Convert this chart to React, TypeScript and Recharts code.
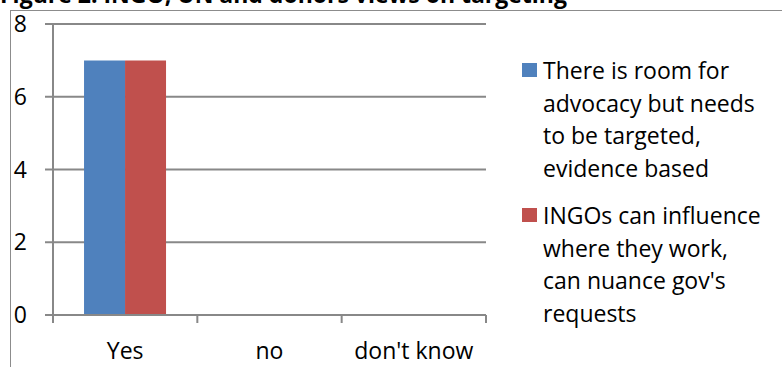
import React from 'react';
import { BarChart, Bar, XAxis, YAxis, CartesianGrid } from 'recharts';

const TITLE = "Figure 2: INGO, UN and donors views on targeting";

const ANSWERS = ['Yes', 'no', "don't know"];
const ROOM_FOR_ADVOCACY = [7, 0, 0];
const INGOS_CAN_INFLUENCE = [7, 0, 0];
const Y_TICKS = [0, 2, 4, 6, 8];

const SERIES = [
  { key: 'advocacy', name: 'There is room for advocacy but needs to be targeted, evidence based', color: '#4F81BD', values: ROOM_FOR_ADVOCACY },
  { key: 'influence', name: "INGOs can influence where they work, can nuance gov's requests", color: '#C0504D', values: INGOS_CAN_INFLUENCE },
];

const data = ANSWERS.map((answer, i) => {
  const row: Record<string, string | number> = { answer };
  SERIES.forEach((s) => { row[s.key] = s.values[i]; });
  return row;
});

const FONT = '"Open Sans", sans-serif';
const AXIS = '#888888';

// category ticks sit on the band edges, not the centres
function AnswerTick(props: any) {
  const { x, y, payload, index, visibleTicksCount } = props;
  const half = payload.offset ?? 0;
  const axisY = y - 28;
  const last = index === visibleTicksCount - 1;
  return (
    <g>
      <line x1={x - half} x2={x - half} y1={axisY} y2={axisY + 8} stroke={AXIS} strokeWidth={2} />
      {last && <line x1={x + half} x2={x + half} y1={axisY} y2={axisY + 8} stroke={AXIS} strokeWidth={2} />}
      <text x={x} y={y} dy="0.71em" textAnchor="middle" fill="#000" fontSize={23} fontFamily={FONT}>
        {payload.value}
      </text>
    </g>
  );
}

export default function App() {
  return (
    <div style={{ position: 'absolute', left: 0, top: 0, width: 782, height: 367, overflow: 'hidden', background: '#fff', fontFamily: FONT }}>
      <div style={{ position: 'absolute', left: 0, top: -17, fontSize: 23, fontWeight: 700, lineHeight: 1, whiteSpace: 'nowrap', color: '#000' }}>
        {TITLE}
      </div>
      <div style={{ position: 'absolute', left: 10, top: 10, width: 800, height: 400, borderTop: '1px solid #8c8c8c', borderLeft: '1px solid #8c8c8c' }} />

      <div style={{ position: 'absolute', left: 0, top: 0 }}>
        <BarChart
          width={782}
          height={367}
          data={data}
          margin={{ top: 24, right: 296, left: 0, bottom: 0 }}
          barCategoryGap="21.5%"
          barGap={0}
        >
          <CartesianGrid vertical={false} stroke={AXIS} strokeWidth={2} />
          <XAxis
            dataKey="answer"
            height={52}
            axisLine={{ stroke: AXIS, strokeWidth: 2 }}
            tickLine={false}
            tickSize={0}
            tickMargin={28}
            tick={<AnswerTick />}
            interval={0}
          />
          <YAxis
            width={53}
            domain={[0, 8]}
            ticks={Y_TICKS}
            axisLine={{ stroke: AXIS, strokeWidth: 2 }}
            tickLine={{ stroke: AXIS, strokeWidth: 2 }}
            tickSize={8}
            tickMargin={18}
            tick={{ fill: '#000', fontSize: 23, fontFamily: FONT }}
          />
          {SERIES.map((s) => (
            <Bar key={s.key} dataKey={s.key} name={s.name} fill={s.color} isAnimationActive={false} />
          ))}
        </BarChart>
      </div>

      <div style={{ position: 'absolute', left: 522, top: 54, fontSize: 23, lineHeight: '32.5px', color: '#000' }}>
        {SERIES.map((s, i) => (
          <div key={s.key} style={{ display: 'flex', alignItems: 'flex-start', marginTop: i === 0 ? 0 : 15 }}>
            <div style={{ width: 15, height: 14, marginTop: 9, background: s.color, flexShrink: 0 }} />
            <div style={{ marginLeft: 6, width: 221 }}>{s.name}</div>
          </div>
        ))}
      </div>
    </div>
  );
}
